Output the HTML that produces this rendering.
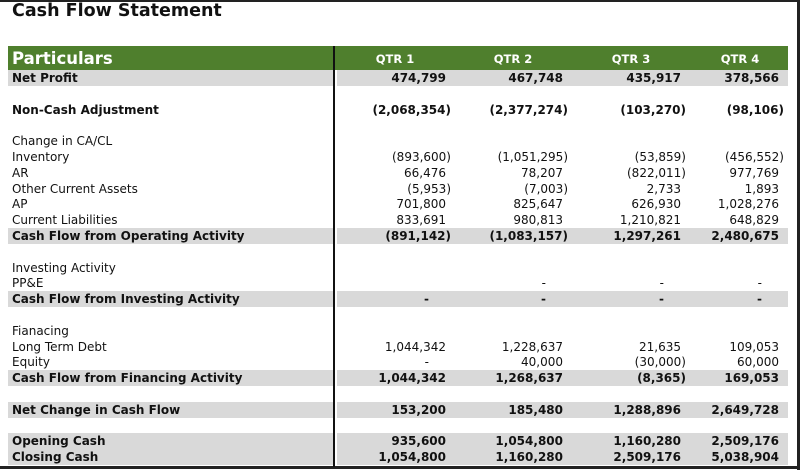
<!DOCTYPE html>
<html><head><meta charset="utf-8">
<style>
body{margin:0;width:800px;height:470px;background:#fff;position:relative;overflow:hidden;font-family:"DejaVu Sans","Liberation Sans",sans-serif;}
.abs{position:absolute;}
.band{position:absolute;background:#d9d9d9;height:16px;}
.lbl{position:absolute;left:12px;font-size:12px;color:#111;line-height:16px;white-space:nowrap;}
.b{font-weight:bold;}
.num{position:absolute;font-size:12px;line-height:16px;text-align:right;width:120px;color:#111;white-space:nowrap;}
.hd{position:absolute;top:46px;height:24px;line-height:26px;color:#fff;font-weight:bold;font-size:11.5px;text-align:center;width:60px;}
</style></head><body>
<div class="abs" style="left:0;top:0;width:800px;height:2px;background:#222"></div>
<div class="abs" style="left:797px;top:0;width:3px;height:470px;background:#222"></div>
<div class="abs" style="left:0;top:466px;width:800px;height:3px;background:#222"></div>
<div class="abs" style="left:12px;top:1px;font-size:17.5px;font-weight:bold;color:#111">Cash Flow Statement</div>
<div class="abs" style="left:8px;top:46px;width:780px;height:24px;background:#4f7f2d"></div>
<div class="abs" style="left:12px;top:46px;line-height:26px;font-size:16.5px;font-weight:bold;color:#fff">Particulars</div>
<div class="hd" style="left:365px">QTR 1</div>
<div class="hd" style="left:483px">QTR 2</div>
<div class="hd" style="left:601px">QTR 3</div>
<div class="hd" style="left:710px">QTR 4</div>
<div id="rows"></div>
<div class="abs" style="left:333px;top:46px;width:2px;height:421px;background:#111"></div>
<script>
const rows = [
 ["Net Profit",1,1,["474,799","467,748","435,917","378,566"]],
 null,
 ["Non-Cash Adjustment",1,0,["(2,068,354)","(2,377,274)","(103,270)","(98,106)"]],
 null,
 ["Change in CA/CL",0,0,null],
 ["Inventory",0,0,["(893,600)","(1,051,295)","(53,859)","(456,552)"]],
 ["AR",0,0,["66,476","78,207","(822,011)","977,769"]],
 ["Other Current Assets",0,0,["(5,953)","(7,003)","2,733","1,893"]],
 ["AP",0,0,["701,800","825,647","626,930","1,028,276"]],
 ["Current Liabilities",0,0,["833,691","980,813","1,210,821","648,829"]],
 ["Cash Flow from Operating Activity",1,1,["(891,142)","(1,083,157)","1,297,261","2,480,675"]],
 null,
 ["Investing Activity",0,0,null],
 ["PP&E",0,0,["","-","-","-"]],
 ["Cash Flow from Investing Activity",1,1,["-","-","-","-"]],
 null,
 ["Fianacing",0,0,null],
 ["Long Term Debt",0,0,["1,044,342","1,228,637","21,635","109,053"]],
 ["Equity",0,0,["-","40,000","(30,000)","60,000"]],
 ["Cash Flow from Financing Activity",1,1,["1,044,342","1,268,637","(8,365)","169,053"]],
 null,
 ["Net Change in Cash Flow",1,1,["153,200","185,480","1,288,896","2,649,728"]],
 null,
 ["Opening Cash",1,1,["935,600","1,054,800","1,160,280","2,509,176"]],
 ["Closing Cash",1,1,["1,054,800","1,160,280","2,509,176","5,038,904"]]
];
const colRight = [451,568,686,784];
const c = document.getElementById('rows');
rows.forEach((r,i)=>{
  if(!r) return;
  const top = 70 + i*15.8;
  if(r[2]){
    const b1=document.createElement('div');b1.className='band';
    
    
    b1.style.cssText=`left:8px;top:${top}px;width:325px`;c.appendChild(b1);
    const b2=document.createElement('div');b2.className='band';
    
    
    b2.style.cssText=`left:337px;top:${top}px;width:451px`;c.appendChild(b2);
  }
  const l=document.createElement('div');l.className='lbl'+(r[1]?' b':'');
  
  
  l.style.top=top+'px';l.textContent=r[0];c.appendChild(l);
  if(r[3]) r[3].forEach((v,j)=>{
    if(!v) return;
    const n=document.createElement('div');n.className='num'+(r[1]?' b':'');
    
    
    let pad = v.startsWith('(')?0:(v==='-'?22:5);
    n.style.top=top+'px';n.style.left=(colRight[j]-120-pad)+'px';
    n.textContent=v;c.appendChild(n);
  });
});
</script>
</body></html>
